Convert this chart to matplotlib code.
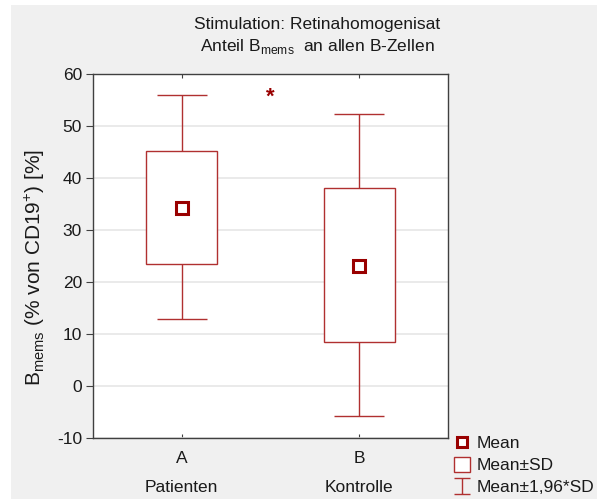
import numpy as np
import matplotlib
matplotlib.use("Agg")
import matplotlib.pyplot as plt
from matplotlib.patches import Rectangle
from matplotlib.lines import Line2D
from matplotlib.path import Path

plt.rcParams['font.family'] = ['Liberation Sans', 'DejaVu Sans']
plt.rcParams['axes.unicode_minus'] = False

# Werte je Gruppe: Mittelwert, Mean±SD, Mean±1,96*SD
gruppen = ["A", "B"]
gruppen_namen = ["Patienten", "Kontrolle"]
mittelwert = [34.2, 23.1]
sd_unten = [23.4, 8.4]
sd_oben = [45.1, 38.0]
ci_unten = [12.8, -5.8]
ci_oben = [55.8, 52.2]
y_ticks = [-10, 0, 10, 20, 30, 40, 50, 60]

rot = "#990000"
hell_rot = "#b03030"
schrift = "#1a1a1a"
fs = 12.5

fig = plt.figure(figsize=(5.97, 4.99), dpi=100)
fig.patch.set_facecolor("white")
fig.patches.append(Rectangle((11 / 597, 0), 1, 1 - 5 / 499, transform=fig.transFigure,
                             facecolor="#f0f0f0", edgecolor="none", zorder=-10))

ax = fig.add_axes([93 / 597, 1 - 438.3 / 499, (448 - 93) / 597, (438.3 - 73.5) / 499])
ax.set_facecolor("white")

x = np.arange(len(gruppen))
m = np.array(mittelwert)

# Whisker (Mean±1,96*SD)
ax.errorbar(x, m, yerr=[m - np.array(ci_unten), np.array(ci_oben) - m], fmt="none",
            ecolor=hell_rot, elinewidth=1.0, capsize=18, capthick=1.0, zorder=2)

# Boxen (Mean±SD)
for xi, lo, hi in zip(x, sd_unten, sd_oben):
    ax.add_patch(Rectangle((xi - 0.2, lo), 0.4, hi - lo, facecolor="white",
                           edgecolor=hell_rot, linewidth=1.0, zorder=3))

# Mittelwerte
ax.plot(x, m, linestyle="none", marker="s", markersize=8.5, markerfacecolor="white",
        markeredgecolor=rot, markeredgewidth=2.2, zorder=4)

ax.text(0.5, 55.4, "*", color=rot, fontsize=16, fontweight="bold", ha="center", va="center")

ax.set_xlim(-0.5, 1.5)
ax.set_ylim(-10, 60)
ax.set_yticks(y_ticks)
ax.set_xticks(x)
ax.set_xticklabels(gruppen)
ax.yaxis.grid(True, color="#e6e6e6", linewidth=1.2)
ax.set_axisbelow(True)
ax.tick_params(axis="y", direction="out", length=5, width=0.8, labelsize=fs,
               colors="#404040", labelcolor=schrift, pad=3)
ax.tick_params(axis="x", direction="in", length=3, width=0.8, labelsize=fs,
               colors="#404040", labelcolor=schrift, top=True, pad=9)
for s in ax.spines.values():
    s.set_color("#404040")
    s.set_linewidth(1.0)

for xi, name in zip(x, gruppen_namen):
    ax.text(xi, -0.135, name, transform=ax.get_xaxis_transform(), ha="center", va="center",
            fontsize=fs, color=schrift)

fig.text(35 / 597, 1 - 267 / 499, r"B$_{\mathregular{mems}}$ (% von CD19$^{\mathregular{+}}$) [%]",
         rotation=90, ha="center", va="center", fontsize=15, color=schrift)

fig.text(317 / 597, 1 - 24 / 499, "Stimulation: Retinahomogenisat", ha="center", va="center",
         fontsize=fs, color=schrift)
fig.text(317 / 597, 1 - 47 / 499, r"Anteil B$_{\mathregular{mems}}$  an allen B-Zellen",
         ha="center", va="center", fontsize=fs, color=schrift)

# Legendensymbol für die Whisker
i_marker = Path([(-0.5, -0.5), (0.5, -0.5), (0, -0.5), (0, 0.5), (-0.5, 0.5), (0.5, 0.5)],
                [Path.MOVETO, Path.LINETO, Path.MOVETO, Path.LINETO, Path.MOVETO, Path.LINETO])
handles = [
    Line2D([], [], linestyle="none", marker="s", markersize=6.5, markerfacecolor="white",
           markeredgecolor=rot, markeredgewidth=2.2),
    Rectangle((0, 0), 1, 1, facecolor="white", edgecolor=hell_rot, linewidth=1.0),
    Line2D([], [], linestyle="none", marker=i_marker, markersize=12, markerfacecolor="none",
           markeredgecolor=hell_rot, markeredgewidth=1.0),
]
leg = fig.legend(handles, ["Mean", "Mean±SD", "Mean±1,96*SD"], loc="upper left",
                 bbox_to_anchor=(454 / 597, 1 - 435 / 499), frameon=False, fontsize=fs,
                 handlelength=0.95, handleheight=0.95, handletextpad=0.35, labelspacing=0.32,
                 borderpad=0, borderaxespad=0)
for t in leg.get_texts():
    t.set_color(schrift)

fig.savefig("out.png", dpi=100)
